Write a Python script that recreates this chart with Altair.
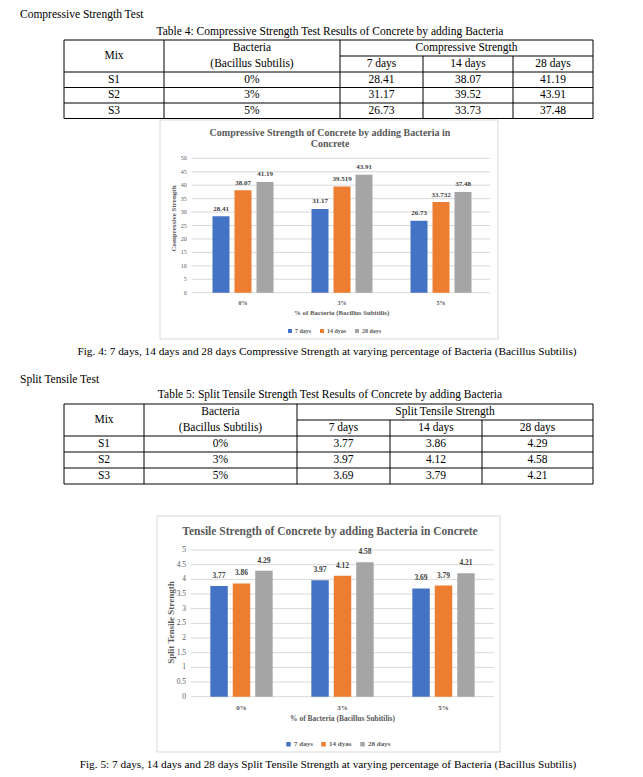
import altair as alt
import pandas as pd

# ---------------- data ----------------
mix = ["S1", "S2", "S3"]
bacteria = ["0%", "3%", "5%"]
series = ["7 days", "14 dyas", "28 days"]
table_days = ["7 days", "14 days", "28 days"]

comp_7 = [28.41, 31.17, 26.73]
comp_14 = [38.07, 39.519, 33.732]
comp_28 = [41.19, 43.91, 37.48]

tens_7 = [3.77, 3.97, 3.69]
tens_14 = [3.86, 4.12, 3.79]
tens_28 = [4.29, 4.58, 4.21]

comp_ticks = [0, 5, 10, 15, 20, 25, 30, 35, 40, 45, 50]
tens_ticks = [0, 0.5, 1, 1.5, 2, 2.5, 3, 3.5, 4, 4.5, 5]

colors = ["#4472C4", "#ED7D31", "#A5A5A5"]

# ---------------- layout (page pixels) ----------------
FONT = "Liberation Serif"
W, H = 627, 766
M = 8  # page margin
GRAY = "#595959"
base = pd.DataFrame({"_": [0]})


def txt(s, x, y, size=11.5, align="center", weight="normal", color="#000", angle=0):
    return alt.Chart(base).mark_text(
        align=align, baseline="middle", fontSize=size, fontWeight=weight,
        color=color, font=FONT, angle=angle
    ).encode(x=alt.value(x - M), y=alt.value(y - M), text=alt.value(s))


def hline(x1, x2, y, color="#000", w=1):
    return alt.Chart(base).mark_rule(color=color, strokeWidth=w).encode(
        x=alt.value(x1 - M), x2=alt.value(x2 - M), y=alt.value(y - M))


def vline(x, y1, y2, color="#000", w=1):
    return alt.Chart(base).mark_rule(color=color, strokeWidth=w).encode(
        x=alt.value(x - M), y=alt.value(y1 - M), y2=alt.value(y2 - M))


def box(x1, x2, y1, y2):
    return alt.Chart(base).mark_rect(fill="white", stroke="#D9D9D9", strokeWidth=1).encode(
        x=alt.value(x1 - M), x2=alt.value(x2 - M), y=alt.value(y1 - M), y2=alt.value(y2 - M))


def table(group_label, xe, ye, v7, v14, v28):
    layers = [hline(xe[0], xe[5], ye[0]), hline(xe[2], xe[5], ye[1])]
    for y in ye[2:]:
        layers.append(hline(xe[0], xe[5], y))
    for i, x in enumerate(xe):
        layers.append(vline(x, ye[1] if i in (3, 4) else ye[0], ye[5]))
    layers += [
        txt("Mix", (xe[0] + xe[1]) / 2, (ye[0] + ye[2]) / 2),
        txt("Bacteria", (xe[1] + xe[2]) / 2, (ye[0] + ye[1]) / 2),
        txt("(Bacillus Subtilis)", (xe[1] + xe[2]) / 2, (ye[1] + ye[2]) / 2),
        txt(group_label, (xe[2] + xe[5]) / 2, (ye[0] + ye[1]) / 2),
    ]
    for j, d in enumerate(table_days):
        layers.append(txt(d, (xe[2 + j] + xe[3 + j]) / 2, (ye[1] + ye[2]) / 2))
    ys = alt.Scale(domain=mix, range=[ye[2] - M, ye[5] - M], paddingInner=0, paddingOuter=0)
    columns = [mix, bacteria, [f"{v:.2f}" for v in v7], [f"{v:.2f}" for v in v14],
               [f"{v:.2f}" for v in v28]]
    for j, col in enumerate(columns):
        df = pd.DataFrame({"mix": mix, "t": col})
        layers.append(
            alt.Chart(df).mark_text(fontSize=11.5, font=FONT, color="#000", baseline="middle").encode(
                x=alt.value((xe[j] + xe[j + 1]) / 2 - M),
                y=alt.Y("mix:N", scale=ys, axis=None, sort=mix),
                text="t:N",
            )
        )
    return layers


def bar_chart(v7, v14, v28, ticks, ymax, cfg):
    rows = []
    for s, vals in zip(series, [v7, v14, v28]):
        for b, v in zip(bacteria, vals):
            rows.append({"bacteria": b, "series": s, "value": v})
    df = pd.DataFrame(rows)
    xs = alt.Scale(domain=bacteria, range=[cfg["x0"] - M, cfg["x1"] - M],
                   paddingInner=1 / 3, paddingOuter=1 / 6)
    xo = alt.Scale(domain=series, paddingInner=cfg["op"], paddingOuter=cfg["op"] / 2)
    ys = alt.Scale(domain=[0, ymax], range=[cfg["y0"] - M, cfg["y1"] - M], nice=False, zero=True)
    cs = alt.Scale(domain=series, range=colors)
    tdf = pd.DataFrame({"t": ticks})

    grid = alt.Chart(tdf).mark_rule(color="#D9D9D9", strokeWidth=1).encode(
        y=alt.Y("t:Q", scale=ys, axis=None),
        x=alt.value(cfg["gx0"] - M), x2=alt.value(cfg["gx1"] - M))
    tlab = alt.Chart(tdf).mark_text(align="right", baseline="middle", fontSize=cfg["tick"],
                                    font=FONT, color=GRAY).encode(
        y=alt.Y("t:Q", scale=ys, axis=None), x=alt.value(cfg["lx"] - M), text="t:N")
    bars = alt.Chart(df).mark_bar().encode(
        x=alt.X("bacteria:N", scale=xs, axis=None, sort=bacteria),
        xOffset=alt.XOffset("series:N", scale=xo, sort=series),
        y=alt.Y("value:Q", scale=ys, axis=None),
        color=alt.Color("series:N", scale=cs, sort=series, legend=alt.Legend(
            orient="none", legendX=cfg["legx"] - M, legendY=cfg["legy"] - M,
            direction="horizontal", title=None, symbolType="square",
            symbolSize=cfg["sym"], symbolStrokeWidth=0, labelFont=FONT,
            labelFontSize=cfg["leg"], labelFontWeight="bold", labelColor=GRAY,
            labelOffset=2, columnPadding=7)),
    )
    vlab = alt.Chart(df).mark_text(dy=cfg["dy"], fontSize=cfg["val"], font=FONT,
                                   fontWeight="bold", color="#404040", baseline="middle").encode(
        x=alt.X("bacteria:N", scale=xs, axis=None, sort=bacteria),
        xOffset=alt.XOffset("series:N", scale=xo, sort=series),
        y=alt.Y("value:Q", scale=ys, axis=None),
        text="value:N")
    cat = alt.Chart(pd.DataFrame({"bacteria": bacteria})).mark_text(
        fontSize=cfg["cat"], font=FONT, fontWeight="bold", color=GRAY, baseline="middle").encode(
        x=alt.X("bacteria:N", scale=xs, axis=None, sort=bacteria),
        y=alt.value(cfg["caty"] - M), text="bacteria:N")

    layers = [box(*cfg["box"])]
    for i, line in enumerate(cfg["title"]):
        layers.append(txt(line, cfg["tx"], cfg["ty"][i], size=cfg["tsize"], weight="bold", color=GRAY))
    layers += [
        txt(cfg["ytitle"], cfg["ytx"], cfg["yty"], size=cfg["ytsize"], weight="bold", color=GRAY, angle=270),
        txt("% of Bacteria (Bacillus Subitilis)", cfg["xtx"], cfg["xty"], size=cfg["xtsize"],
            weight="bold", color=GRAY),
    ]
    return alt.layer(*layers, grid, tlab, bars, vlab, cat)


chart1_cfg = dict(
    box=(160, 498, 120, 339), x0=193.5, x1=490.5, y0=292.7, y1=158.3, op=0.227,
    gx0=191.7, gx1=490, lx=186.7, tick=6, dy=-7.5, val=7, cat=6, caty=302.7,
    legx=287, legy=328, sym=16, leg=6,
    title=["Compressive Strength of Concrete by adding Bacteria in", "Concrete"],
    tx=330, ty=[132.7, 144.2], tsize=10,
    ytitle="Compressive Strength", ytx=174, yty=218.5, ytsize=7,
    xtx=341.7, xty=312.7, xtsize=6.8,
)
chart2_cfg = dict(
    box=(157, 500, 516, 752), x0=191, x1=494, y0=696.7, y1=550, op=0.222,
    gx0=190.7, gx1=494, lx=186, tick=7.5, dy=-10, val=7.5, cat=7, caty=707.7,
    legx=285, legy=740.5, sym=20, leg=7,
    title=["Tensile Strength of Concrete by adding Bacteria in Concrete"],
    tx=330, ty=[531.7], tsize=11.5,
    ytitle="Split Tensile Strength", ytx=170.7, yty=622.5, ytsize=9,
    xtx=342.5, xty=719, xtsize=7.5,
)

page = [
    txt("Compressive Strength Test", 20, 15, align="left"),
    txt("Table 4: Compressive Strength Test Results of Concrete by adding Bacteria", 330, 31.5),
]
page += table("Compressive Strength", [64, 164, 340, 423, 513, 593],
              [40, 56, 72, 87.5, 103, 118.5], comp_7, comp_14, comp_28)
page.append(bar_chart(comp_7, comp_14, comp_28, comp_ticks, 50, chart1_cfg))
page += [
    txt("Fig. 4: 7 days, 14 days and 28 days Compressive Strength at varying percentage of Bacteria (Bacillus Subtilis)",
        327, 351.7, size=11.3),
    txt("Split Tensile Test", 20, 380, align="left"),
    txt("Table 5: Split Tensile Strength Test Results of Concrete by adding Bacteria", 330, 395),
]
page += table("Split Tensile Strength", [64, 144, 297, 390, 482, 593],
              [404, 420, 436, 452, 468, 484], tens_7, tens_14, tens_28)
page.append(bar_chart(tens_7, tens_14, tens_28, tens_ticks, 5, chart2_cfg))
page.append(txt("Fig. 5: 7 days, 14 days and 28 days Split Tensile Strength at varying percentage of Bacteria (Bacillus Subtilis)",
                328, 765, size=11.3))

chart = alt.layer(*page).properties(
    width=W, height=H, padding=0,
    autosize=alt.AutoSizeParams(type="none"),
).resolve_scale(
    x="independent", y="independent", color="independent", xOffset="independent"
).configure_view(stroke=None)

chart.save("out.html", embed_options={"renderer": "svg", "actions": False})
